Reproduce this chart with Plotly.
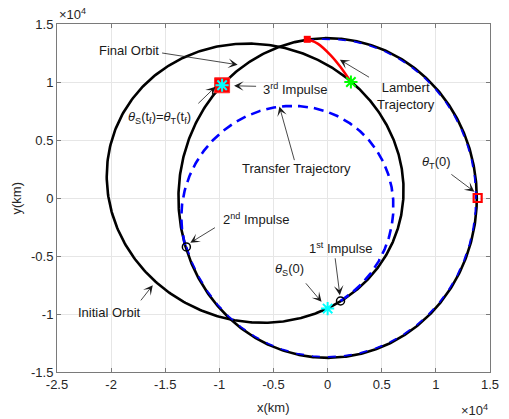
import numpy as np
import plotly.graph_objects as go

# ---- orbit elements (km, degrees) ----
final_radius = 13780.0
coast_radius = 13700.0
init_a, init_e, init_w = 13770.0, 0.495, -10.8
trans_a, trans_e, trans_w = 9870.0, 0.396, 17.9
trans_start_deg, trans_end_deg = -82.4, 197.9       # 1st -> 2nd impulse
coast_start_deg, coast_end_deg = 197.9, 457.8        # along final orbit

# ---- marker points (km) ----
theta_s0 = (0.0, -9530.0)
impulse1 = (1190.0, -8880.0)
impulse2 = (-13050.0, -4220.0)
impulse3 = (-9750.0, 9720.0)
lambert_x = [-1880.0, -920.0, 290.0, 1190.0, 2150.0]
lambert_y = [13680.0, 13310.0, 12300.0, 11290.0, 10000.0]
theta_t0 = (13860.0, 0.0)

# ---- ticks ----
x_tick_vals = [-25000, -20000, -15000, -10000, -5000, 0, 5000, 10000, 15000]
x_tick_text = ["-2.5", "-2", "-1.5", "-1", "-0.5", "0", "0.5", "1", "1.5"]
y_tick_vals = [-15000, -10000, -5000, 0, 5000, 10000, 15000]
y_tick_text = ["-1.5", "-1", "-0.5", "0", "0.5", "1", "1.5"]


def conic(a, e, w_deg, t0, t1, n=600):
    th = np.radians(np.linspace(t0, t1, n))
    r = a * (1 - e ** 2) / (1 + e * np.cos(th - np.radians(w_deg)))
    return r * np.cos(th), r * np.sin(th)


ix, iy = conic(init_a, init_e, init_w, 0, 360)
fx, fy = conic(final_radius, 0.0, 0.0, 0, 360)
tx, ty = conic(trans_a, trans_e, trans_w, trans_start_deg, trans_end_deg)
cx, cy = conic(coast_radius, 0.0, 0.0, coast_start_deg, coast_end_deg)

fig = go.Figure()
fig.add_trace(go.Scatter(x=ix, y=iy, mode="lines", line=dict(color="black", width=2.6)))
fig.add_trace(go.Scatter(x=fx, y=fy, mode="lines", line=dict(color="black", width=2.6)))
fig.add_trace(go.Scatter(x=tx, y=ty, mode="lines",
                         line=dict(color="#0000ff", width=2.6, dash="10px,6px")))
fig.add_trace(go.Scatter(x=cx, y=cy, mode="lines",
                         line=dict(color="#0000ee", width=1.8, dash="8px,8px")))
fig.add_trace(go.Scatter(x=lambert_x, y=lambert_y, mode="lines",
                         line=dict(color="#ff0000", width=2.5, shape="spline")))

# markers
fig.add_trace(go.Scatter(x=[impulse3[0]], y=[impulse3[1]], mode="markers",
                         marker=dict(symbol="square", size=15, color="#ff0000",
                                     line=dict(color="#ff3030", width=1))))
fig.add_trace(go.Scatter(x=[impulse3[0], theta_s0[0]], y=[impulse3[1], theta_s0[1]], mode="markers",
                         marker=dict(symbol="asterisk", size=11, color="#00ffff",
                                     line=dict(color="#00ffff", width=2))))
fig.add_trace(go.Scatter(x=[lambert_x[0]], y=[lambert_y[0]], mode="markers",
                         marker=dict(symbol="square", size=7, color="#ff0000",
                                     line=dict(width=0))))
fig.add_trace(go.Scatter(x=[lambert_x[-1]], y=[lambert_y[-1]], mode="markers",
                         marker=dict(symbol="asterisk", size=11, color="#00ff00",
                                     line=dict(color="#00ff00", width=2))))
fig.add_trace(go.Scatter(x=[theta_t0[0]], y=[theta_t0[1]], mode="markers",
                         marker=dict(symbol="square-open", size=8, color="#ff0000",
                                     line=dict(color="#ff0000", width=2.2))))
fig.add_trace(go.Scatter(x=[impulse1[0], impulse2[0]], y=[impulse1[1], impulse2[1]], mode="markers",
                         marker=dict(symbol="circle-open", size=8, color="black",
                                     line=dict(color="black", width=1.5))))

# ---- annotation arrows: (tail_x, tail_y, tip_x, tip_y) in km ----
arrows = [
    (-15430, 12521, -8308, 11485),   # Final Orbit
    (-6471, 9628, -8643, 9671),      # 3rd Impulse
    (-12082, 8031, -10362, 9585),    # theta_S(tf)
    (3964, 10336, 1131, 11916),      # Lambert
    (-3032, 3135, -4453, 7884),      # Transfer
    (11294, 2133, 13557, 544),       # theta_T(0)
    (-10272, -2478, -12688, -3860),  # 2nd impulse
    (-17358, -8954, -16154, -7512),  # Initial orbit
    (679, -5069, 1131, -8376),       # 1st impulse
    (-2127, -7227, -561, -8954),     # theta_S(0)
]
annotations = []
for (ax_, ay_, x_, y_) in arrows:
    annotations.append(dict(x=x_, y=y_, ax=ax_, ay=ay_, xref="x", yref="y",
                            axref="x", ayref="y", text="", showarrow=True,
                            arrowhead=3, arrowsize=2.0, arrowwidth=0.8,
                            arrowcolor="#1a1a1a", standoff=0, startstandoff=0))

# ---- labels: (x, y, text, xanchor) ----
labels = [
    (-18318, 12693, "Final Orbit", "center"),
    (-6199, 9412, "3<sup>rd</sup> Impulse", "left"),
    (-18598, 6908, "<i>θ</i><sub>S</sub>(t<sub>f</sub>)=<i>θ</i><sub>T</sub>(t<sub>f</sub>)", "left"),
    (7195, 8808, "Lambert<br>Trajectory", "center"),
    (-2851, 2504, "Transfer Trajectory", "center"),
    (8552, 3022, "<i>θ</i><sub>T</sub>(0)", "left"),
    (-9819, -1813, "2<sup>nd</sup> Impulse", "left"),
    (-23213, -9844, "Initial Orbit", "left"),
    (-1946, -4318, "1<sup>st</sup> Impulse", "left"),
    (-5023, -6131, "<i>θ</i><sub>S</sub>(0)", "left"),
]
for (x_, y_, t_, xa) in labels:
    annotations.append(dict(x=x_, y=y_, xref="x", yref="y", text=t_, showarrow=False,
                            xanchor=xa, yanchor="middle",
                            font=dict(size=13, color="#1a1a1a")))

# axis titles and exponent labels (paper coordinates)
annotations += [
    dict(x=0.5, y=-0.0, xref="paper", yref="paper", yshift=-26, text="x(km)",
         showarrow=False, xanchor="center", yanchor="top", font=dict(size=13, color="#262626")),
    dict(x=0, y=0.5, xref="paper", yref="paper", xshift=-32, text="y(km)", textangle=-90,
         showarrow=False, xanchor="right", yanchor="middle", font=dict(size=13, color="#262626")),
    dict(x=0, y=1, xref="paper", yref="paper", text="×10<sup>4</sup>", showarrow=False,
         xanchor="left", yanchor="bottom", font=dict(size=13, color="#262626")),
    dict(x=1, y=0, xref="paper", yref="paper", yshift=-28, text="×10<sup>4</sup>", showarrow=False,
         xanchor="right", yanchor="top", font=dict(size=13, color="#262626")),
]

axis_common = dict(showgrid=True, gridcolor="#e6e6e6", gridwidth=1, zeroline=False,
                   showline=True, linecolor="#7a7a7a", linewidth=1, mirror="allticks",
                   ticks="inside", ticklen=4, tickcolor="#7a7a7a",
                   tickfont=dict(size=13, color="#262626"))

fig.update_layout(
    width=509, height=419,
    margin=dict(l=57, r=10, t=24, b=47),
    paper_bgcolor="white", plot_bgcolor="white",
    showlegend=False,
    font=dict(family="Liberation Sans, Arial, sans-serif"),
    xaxis=dict(range=[-25000, 15000], tickvals=x_tick_vals, ticktext=x_tick_text, **axis_common),
    yaxis=dict(range=[-15000, 15000], tickvals=y_tick_vals, ticktext=y_tick_text, **axis_common),
    annotations=annotations,
)

fig.write_html("out.html")
